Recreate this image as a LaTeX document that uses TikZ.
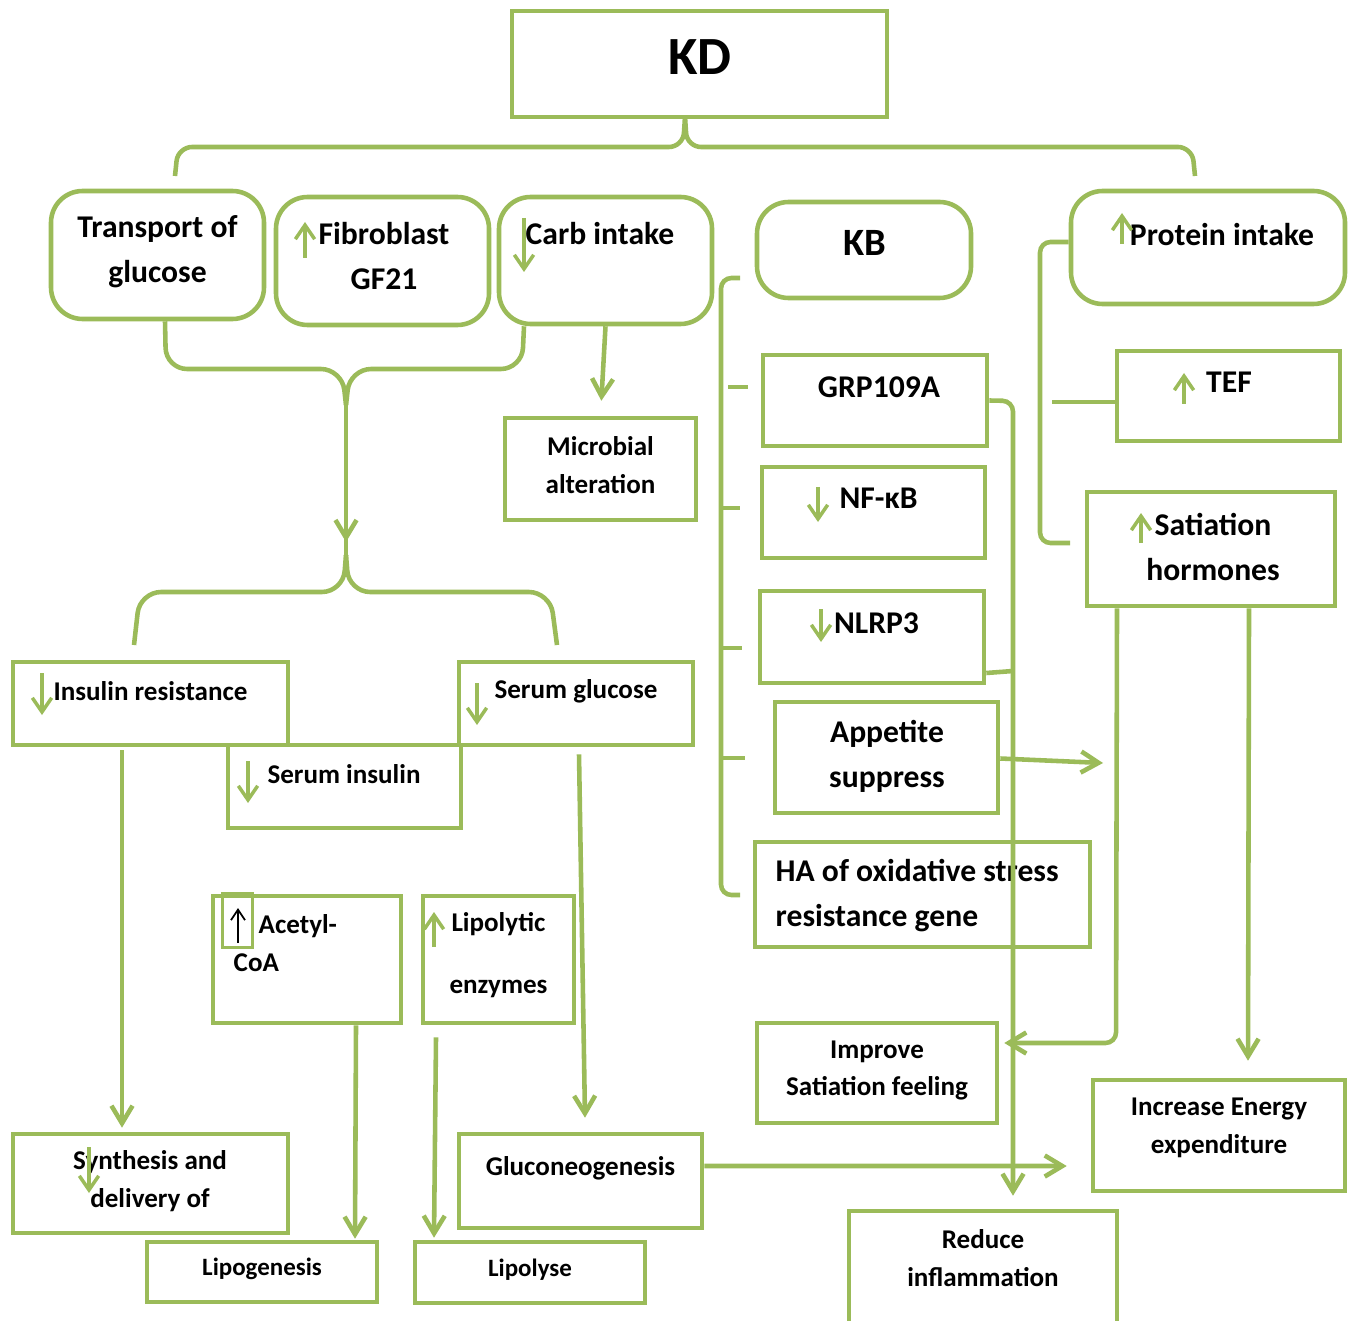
\documentclass[tikz,border=0pt]{standalone}
\usepackage{fontspec}
\setmainfont{Carlito}
\usetikzlibrary{arrows.meta,calc,positioning}
\definecolor{kdgreen}{HTML}{9BBB59}

\begin{document}
\begin{tikzpicture}[x=1cm,y=-1cm,
  box/.style 2 args={draw=kdgreen,line width=1.3pt,minimum width=#1cm,minimum height=#2cm,inner sep=0pt},
  rbox/.style 2 args={box={#1}{#2},rounded corners=9pt},
  ln/.style={draw=kdgreen,line width=1.3pt},
  arr/.style={ln,-{Straight Barb[length=5pt,width=6pt]}},
  sign/.style={draw=kdgreen,line width=1pt,-{Straight Barb[length=4pt,width=5.5pt]}},
  big/.style={font=\bfseries\fontsize{9}{12.8}\selectfont,align=center,inner sep=0pt},
  small/.style={font=\bfseries\fontsize{7.7}{10.8}\selectfont,align=center,inner sep=0pt},
  tiny/.style={font=\bfseries\fontsize{7.1}{10}\selectfont,align=center,inner sep=0pt}]
\useasboundingbox (0,0) rectangle (13.49,13.20);

\node[box={3.75}{1.06}] (kd) at (6.995,0.64) {};
\node[font=\bfseries\fontsize{15.3}{18}\selectfont,inner sep=0pt] (kdt) at (7.00,0.57) {KD};

\node[rbox={2.13}{1.28}] (trans) at (1.575,2.55) {};
\node[big] (transt) at (1.575,2.515) {Transport of\\glucose};
\node[rbox={2.13}{1.28}] (fib) at (3.825,2.61) {};
\node[big] (fibt) at (3.84,2.565) {Fibroblast\\GF21};
\node[rbox={2.13}{1.27}] (carb) at (6.055,2.605) {};
\node[big] (carbt) at (6.00,2.34) {Carb intake};
\node[rbox={2.14}{0.96}] (kb) at (8.64,2.50) {};
\node[font=\bfseries\fontsize{11}{13}\selectfont,inner sep=0pt] (kbt) at (8.645,2.43) {KB};
\node[rbox={2.74}{1.13}] (prot) at (12.08,2.475) {};
\node[big] (prott) at (12.22,2.35) {Protein intake};

\node[box={1.91}{1.02}] (micro) at (6.005,4.69) {};
\node[small] (microt) at (6.005,4.65) {Microbial\\alteration};
\node[box={2.24}{0.91}] (grp) at (8.75,4.005) {};
\node[big] (grpt) at (8.79,3.87) {GRP109A};
\node[box={2.23}{0.91}] (nfkb) at (8.735,5.125) {};
\node[big] (nfkbt) at (8.785,4.98) {NF-κB};
\node[box={2.24}{0.92}] (nlrp) at (8.72,6.37) {};
\node[big] (nlrpt) at (8.765,6.23) {NLRP3};
\node[box={2.23}{1.11}] (app) at (8.865,7.575) {};
\node[big] (appt) at (8.87,7.56) {Appetite\\suppress};
\node[box={3.35}{1.05}] (ha) at (9.225,8.945) {};
\node[big,align=left,anchor=west] (hat) at (7.75,8.955) {HA of oxidative stress\\resistance gene};
\node[box={2.23}{0.90}] (tef) at (12.285,3.96) {};
\node[big] (teft) at (12.29,3.82) {TEF};
\node[box={2.48}{1.14}] (sat) at (12.11,5.49) {};
\node[big] (satt) at (12.13,5.465) {Satiation\\hormones};

\node[box={2.75}{0.83}] (ins) at (1.505,7.035) {};
\node[small] (inst) at (1.505,6.91) {Insulin resistance};
\node[box={2.34}{0.83}] (sglu) at (5.76,7.035) {};
\node[small] (sglut) at (5.76,6.91) {Serum glucose};
\node[box={2.33}{0.83}] (sins) at (3.445,7.865) {};
\node[small] (sinst) at (3.44,7.74) {Serum insulin};
\node[box={1.88}{1.27}] (ace) at (3.07,9.595) {};
\node[small,align=left,anchor=west] (acet) at (2.33,9.43) {\hspace*{0.25cm}Acetyl-\\CoA};
\node[box={1.51}{1.27}] (lipo) at (4.985,9.595) {};
\node[small,font=\bfseries\fontsize{7.7}{17.6}\selectfont] (lipot) at (4.985,9.55) {Lipolytic\\enzymes};
\node[box={2.75}{0.99}] (syn) at (1.505,11.835) {};
\node[small] (synt) at (1.50,11.81) {Synthesis and\\delivery of};
\node[box={2.43}{0.94}] (gluco) at (5.805,11.81) {};
\node[small] (glucot) at (5.805,11.68) {Gluconeogenesis};
\node[box={2.30}{0.60}] (lipog) at (2.62,12.72) {};
\node[tiny] (lipogt) at (2.62,12.69) {Lipogenesis};
\node[box={2.30}{0.61}] (lipol) at (5.30,12.725) {};
\node[tiny] (lipolt) at (5.30,12.70) {Lipolyse};

\node[box={2.40}{1.00}] (imp) at (8.77,10.73) {};
\node[small] (impt) at (8.77,10.705) {Improve\\Satiation feeling};
\node[box={2.68}{1.34}] (red) at (9.83,12.78) {};
\node[small] (redt) at (9.83,12.585) {Reduce\\inflammation};
\node[box={2.52}{1.11}] (energy) at (12.19,11.355) {};
\node[small] (energyt) at (12.19,11.28) {Increase Energy\\expenditure};

\draw[sign] (3.05,2.58) -- (3.05,2.22);
\draw[sign] (5.24,2.18) -- (5.24,2.72);
\draw[sign] (11.22,2.44) -- (11.22,2.13);
\draw[sign] (8.18,4.87) -- (8.18,5.22);
\draw[sign] (8.21,6.09) -- (8.21,6.42);
\draw[sign] (11.84,4.04) -- (11.84,3.73);
\draw[sign] (11.41,5.43) -- (11.41,5.13);
\draw[sign] (0.42,6.73) -- (0.42,7.15);
\draw[sign] (4.77,6.83) -- (4.77,7.25);
\draw[sign] (2.48,7.61) -- (2.48,8.03);
\draw[sign] (4.34,9.47) -- (4.34,9.12);
\draw[sign] (0.89,11.47) -- (0.89,11.93);
\node[draw=kdgreen,line width=1pt,minimum width=0.30cm,minimum height=0.54cm,inner sep=0pt] (acbox) at (2.375,9.205) {};
\draw[black,line width=0.5pt,-{Straight Barb[length=3pt,width=4pt]}] (2.38,9.43) -- (2.38,9.08);

\coordinate (kdtip) at (6.85,1.17);
\draw[ln,rounded corners=4pt] (kdtip) -- (6.83,1.47) -- (1.78,1.47) -- (1.75,1.76);
\draw[ln,rounded corners=4pt] (kdtip) -- (6.87,1.47) -- (11.92,1.47) -- (11.95,1.76);

\coordinate (fork) at (3.46,4.05);
\coordinate (join) at (3.46,5.55);
\draw[ln,rounded corners=6pt] ([xshift=0.075cm]trans.south) -- (1.66,3.69) -- (3.42,3.69) -- (fork);
\draw[ln,rounded corners=6pt] ([xshift=-0.815cm]carb.south) -- (5.22,3.69) -- (3.50,3.69) -- (fork);
\draw[ln] (fork) -- (join);
\draw[arr] (fork) -- (3.46,5.42);
\draw[ln,rounded corners=6pt] (join) -- (3.43,5.92) -- (1.40,5.92) -- (1.34,6.45);
\draw[ln,rounded corners=6pt] (join) -- (3.49,5.92) -- (5.50,5.92) -- (5.57,6.45);
\draw[arr,shorten >=0.15cm] (carb.south) -- (micro.north);

\draw[ln,rounded corners=3pt] (7.40,2.78) -- (7.21,2.78) -- (7.21,8.95) -- (7.40,8.95);
\draw[ln] (7.28,3.87) -- (7.48,3.87);
\draw[ln] (7.21,5.08) -- (7.40,5.08);
\draw[ln] (7.21,6.48) -- (7.42,6.48);
\draw[ln] (7.21,7.58) -- (7.45,7.58);

\draw[arr,rounded corners=3pt,shorten >=0.13cm] (grp.east) -- (10.13,4.01) -- ([xshift=0.30cm]red.north);
\draw[ln,rounded corners=3pt] ([yshift=-0.36cm]nlrp.east) -- (10.13,6.71);

\draw[ln,rounded corners=3pt] ([yshift=0.055cm]prot.west) -- (10.40,2.42) -- (10.40,5.43) -- (10.70,5.43);
\draw[ln] (10.52,4.02) -- ([yshift=-0.06cm]tef.west);
\draw[arr] ([yshift=-0.01cm]app.east) -- (11.03,7.63);
\draw[arr,rounded corners=3pt] ([xshift=-0.94cm]sat.south) -- (11.16,10.43) -- ([xshift=0.05cm,yshift=0.30cm]imp.east);
\draw[arr] ([xshift=0.38cm]sat.south) -- ([xshift=0.29cm,yshift=0.17cm]energy.north);
\draw[arr] ([yshift=0.15cm]gluco.east) -- ([xshift=-0.24cm,yshift=-0.305cm]energy.west);

\draw[arr] ([xshift=-0.285cm,yshift=-0.03cm]ins.south) -- ([xshift=-0.285cm,yshift=0.04cm]syn.north);
\draw[arr] ([xshift=0.03cm,yshift=-0.07cm]sglu.south) -- ([xshift=0.045cm,yshift=0.14cm]gluco.north);
\draw[arr] ([xshift=0.49cm]ace.south) -- ([xshift=0.93cm,yshift=0.01cm]lipog.north);
\draw[arr] ([xshift=-0.625cm,yshift=-0.12cm]lipo.south) -- ([xshift=-0.96cm,yshift=0.02cm]lipol.north);
\end{tikzpicture}
\end{document}
